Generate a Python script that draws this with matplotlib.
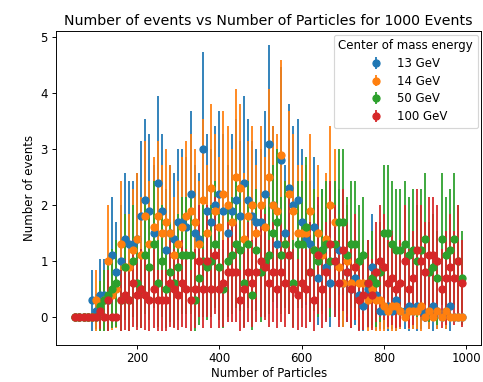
import numpy as np
import matplotlib
matplotlib.use("Agg")
import matplotlib.pyplot as plt

particles = [50, 60, 70, 80, 90, 100, 110, 120, 130, 140,
             150, 160, 170, 180, 190, 200, 210, 220, 230, 240,
             250, 260, 270, 280, 290, 300, 310, 320, 330, 340,
             350, 360, 370, 380, 390, 400, 410, 420, 430, 440,
             450, 460, 470, 480, 490, 500, 510, 520, 530, 540,
             550, 560, 570, 580, 590, 600, 610, 620, 630, 640,
             650, 660, 670, 680, 690, 700, 710, 720, 730, 740,
             750, 760, 770, 780, 790, 800, 810, 820, 830, 840,
             850, 860, 870, 880, 890, 900, 910, 920, 930, 940,
             950, 960, 970, 980, 990]

events_13 = [0, 0, 0, 0, 0.3, 0.1, 0.4, 0.4, 0.3, 1.1,
             0.8, 1.0, 1.4, 1.3, 1.3, 1.4, 1.8, 2.1, 1.9, 1.5,
             2.4, 1.9, 1.2, 1.5, 1.4, 1.7, 1.7, 1.6, 2.2, 1.5,
             1.4, 3.0, 1.9, 1.7, 2.0, 2.2, 1.9, 1.5, 1.9, 2.1,
             1.8, 2.4, 2.1, 1.8, 1.7, 1.7, 2.2, 3.1, 2.0, 1.3,
             2.8, 1.5, 2.3, 2.0, 2.1, 1.7, 1.4, 1.3, 1.6, 0.7,
             1.2, 0.9, 0.6, 1.0, 1.2, 0.6, 0.8, 0.5, 0.7, 0.4,
             0.2, 0.5, 0.9, 0.4, 0.1, 0.1, 0.2, 0.1, 0.3, 0.1,
             0.1, 0.2, 0.1, 0.2, 0.1, 0.0, 0.1, 0.2, 0.1, 0.0,
             0.1, 0.2, 0.0, 0.0, 0.0]

events_14 = [0, 0, 0, 0, 0, 0.3, 0.2, 0.3, 1.0, 0.4,
             0.5, 1.3, 0.9, 0.9, 1.2, 1.4, 1.1, 1.8, 1.3, 1.6,
             1.8, 1.5, 1.7, 1.5, 1.1, 1.3, 1.6, 1.8, 1.9, 1.7,
             1.3, 2.1, 1.5, 2.3, 1.9, 1.6, 2.2, 2.0, 1.7, 2.5,
             2.3, 1.4, 1.8, 2.0, 1.5, 2.0, 1.6, 2.5, 2.0, 1.9,
             2.9, 1.3, 2.2, 1.9, 1.5, 1.5, 1.5, 1.9, 1.2, 1.5,
             1.1, 1.4, 2.0, 1.7, 0.9, 0.6, 1.0, 0.6, 0.9, 0.6,
             0.6, 0.3, 0.5, 0.3, 0.3, 0.2, 0.1, 0.2, 0.2, 0.1,
             0.0, 0.1, 0.1, 0.1, 0.2, 0.0, 0.1, 0.0, 0.1, 0.0,
             0.1, 0.0, 0.0, 0.0, 0.0]

events_50 = [0, 0, 0, 0, 0, 0, 0.2, 0.3, 0.4, 0.5,
             0.6, 0.3, 0.9, 0.3, 1.0, 0.6, 0.5, 1.1, 0.9, 1.3,
             0.6, 1.0, 0.5, 0.8, 0.6, 0.9, 1.1, 1.1, 1.1, 0.3,
             0.7, 1.0, 0.9, 1.0, 1.3, 0.9, 0.5, 1.0, 1.1, 1.3,
             1.2, 0.6, 1.3, 0.4, 1.2, 0.8, 1.0, 1.1, 1.5, 1.7,
             1.1, 1.3, 1.1, 0.6, 1.3, 1.3, 1.6, 0.8, 1.2, 1.0,
             1.2, 1.3, 1.0, 1.3, 1.7, 1.7, 1.1, 1.3, 1.3, 1.0,
             1.1, 0.6, 0.7, 0.6, 0.8, 1.5, 1.5, 1.3, 1.2, 1.2,
             1.3, 1.1, 1.2, 1.0, 1.2, 1.4, 0.8, 0.9, 0.7, 1.4,
             1.1, 1.2, 1.4, 1.0, 0.7]

events_100 = [0, 0, 0, 0, 0, 0, 0.1, 0, 0.3, 0,
              0, 0.3, 0.4, 0.3, 0.6, 0.4, 0.5, 0.4, 0.3, 0.5,
              0.3, 0.3, 0.3, 0.6, 0.5, 0.4, 0.6, 0.5, 0.3, 0.5,
              1.0, 0.5, 1.0, 0.5, 1.1, 0.5, 0.6, 0.8, 0.8, 0.8,
              0.3, 0.5, 0.8, 0.6, 0.8, 1.0, 0.9, 0.6, 0.8, 0.5,
              0.8, 0.6, 1.1, 0.5, 0.4, 0.6, 0.5, 0.8, 0.3, 1.1,
              0.5, 0.8, 1.3, 1.0, 0.6, 1.2, 0.8, 0.5, 0.9, 0.3,
              0.4, 0.6, 0.4, 0.8, 1.0, 0.9, 0.6, 0.7, 0.5, 0.6,
              1.0, 0.5, 0.7, 1.2, 1.0, 0.8, 1.1, 1.1, 1.0, 0.5,
              0.7, 0.9, 0.7, 1.0, 0.6]

labels = ["13 GeV", "14 GeV", "50 GeV", "100 GeV"]
series = [events_13, events_14, events_50, events_100]

DPI = 85
fig = plt.figure(figsize=(483 / DPI, 382 / DPI), dpi=DPI)
ax = fig.add_axes([56 / 483, 1 - 345 / 382, (481.5 - 56) / 483, (345 - 31) / 382])

for vals, lab in zip(series, labels):
    v = np.array(vals, dtype=float)
    ax.errorbar(particles, v, yerr=np.sqrt(v), fmt='o', label=lab)

ax.set_title("Number of events vs Number of Particles for 1000 Events", fontsize=12, pad=5)
ax.set_xlabel("Number of Particles", labelpad=2)
ax.set_ylabel("Number of events")
ax.tick_params(axis='x', pad=2.5)
ax.legend(title="Center of mass energy", loc="upper right", borderaxespad=0.3,
          labelspacing=0.4)

fig.savefig("out.png", dpi=DPI)
